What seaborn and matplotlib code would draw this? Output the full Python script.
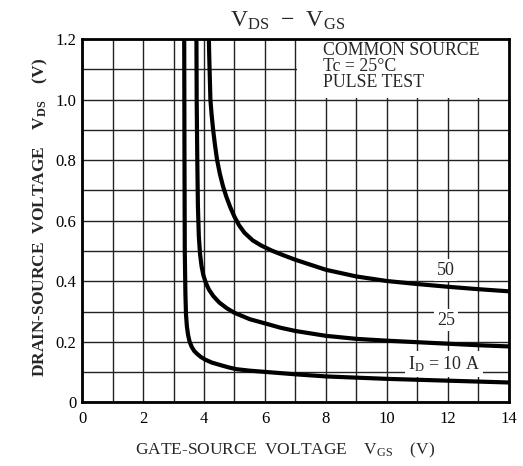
import matplotlib
matplotlib.use("Agg")
import matplotlib.pyplot as plt
import seaborn as sns
import pandas as pd
from matplotlib.patches import Rectangle

# ---- data ----
vgs_10 = [3.35, 3.36, 3.37, 3.39, 3.41, 3.44, 3.48, 3.53, 3.60, 3.68, 3.78, 3.90, 4.05, 4.25, 4.52, 4.80, 5.06, 5.5, 6.0, 7.0, 8.0, 9.0, 10.0, 11.0, 12.0, 13.0, 14.0]
vds_10 = [1.25, 0.80, 0.50, 0.36, 0.29, 0.25, 0.222, 0.20, 0.183, 0.170, 0.160, 0.150, 0.141, 0.132, 0.124, 0.116, 0.110, 0.105, 0.101, 0.093, 0.086, 0.082, 0.078, 0.075, 0.072, 0.069, 0.066]

vgs_25 = [3.75, 3.76, 3.78, 3.80, 3.83, 3.87, 3.92, 3.98, 4.06, 4.16, 4.30, 4.50, 4.75, 5.0, 5.5, 6.04, 6.5, 7.0, 8.0, 9.0, 10.0, 11.0, 12.0, 13.0, 14.0]
vds_25 = [1.25, 1.0, 0.8, 0.65, 0.55, 0.49, 0.45, 0.42, 0.395, 0.373, 0.352, 0.330, 0.311, 0.296, 0.275, 0.26, 0.247, 0.236, 0.22, 0.21, 0.204, 0.199, 0.194, 0.189, 0.185]

vgs_50 = [4.15, 4.17, 4.21, 4.25, 4.30, 4.36, 4.43, 4.52, 4.62, 4.73, 4.86, 5.0, 5.15, 5.33, 5.60, 5.88, 6.21, 6.58, 7.0, 8.0, 9.0, 10.0, 11.0, 12.0, 13.0, 14.0]
vds_50 = [1.25, 1.15, 1.0, 0.95, 0.90, 0.85, 0.80, 0.755, 0.715, 0.68, 0.645, 0.613, 0.585, 0.56, 0.535, 0.518, 0.502, 0.487, 0.471, 0.438, 0.416, 0.401, 0.391, 0.382, 0.374, 0.367]

x_ticks = [0, 2, 4, 6, 8, 10, 12, 14]
y_ticks = [0, 0.2, 0.4, 0.6, 0.8, 1.0, 1.2]
y_tick_labels = ["0", "0.2", "0.4", "0.6", "0.8", "1.0", "1.2"]

curve_labels = ["50", "25", r"I$_\mathrm{D}$ = 10 A"]
curve_label_x = [11.93, 11.93, 11.87]
curve_label_y = [0.437, 0.272, 0.127]

note_lines = ["COMMON SOURCE", "Tc = 25°C", "PULSE TEST"]

# ---- build table ----
frames = []
for name, xs, ys in [("10", vgs_10, vds_10), ("25", vgs_25, vds_25), ("50", vgs_50, vds_50)]:
    frames.append(pd.DataFrame({"vgs": xs, "vds": ys, "id": name}))
df = pd.concat(frames, ignore_index=True)

sns.set_style("white")
plt.rcParams["font.family"] = ["Liberation Serif", "DejaVu Serif"]
plt.rcParams["mathtext.fontset"] = "custom"
plt.rcParams["mathtext.rm"] = "Liberation Serif"
plt.rcParams["mathtext.it"] = "Liberation Serif"
plt.rcParams["mathtext.bf"] = "Liberation Serif:bold"

fig = plt.figure(figsize=(5.23, 4.66), dpi=100)
ax = fig.add_axes([0.1568, 0.1363, 0.8164, 0.78])

sns.lineplot(data=df, x="vgs", y="vds", hue="id", palette=["black"] * 3,
             sort=False, estimator=None, legend=False, linewidth=3.0, ax=ax,
             zorder=3)
for ln in ax.get_lines():
    ln.set_solid_joinstyle("round")
    ln.set_solid_capstyle("round")

ax.set_xlim(0, 14)
ax.set_ylim(0, 1.2)
ax.set_xticks(x_ticks)
ax.set_xticks([i for i in range(15)], minor=True)
ax.set_yticks(y_ticks)
ax.set_yticklabels(y_tick_labels)
ax.set_yticks([i / 10 for i in range(13)], minor=True)
ax.set_axisbelow(True)
ax.grid(True, which="both", color="#222222", linewidth=1.0)
ax.tick_params(which="both", length=0, labelsize=12, colors="black")
ax.tick_params(axis="x", pad=6)
ax.tick_params(axis="y", pad=4)
for s in ax.spines.values():
    s.set_linewidth(2.0)
    s.set_color("black")
    s.set_visible(True)
ax.set_xlabel("")
ax.set_ylabel("")

# blank area for the condition notes
ax.add_patch(Rectangle((7.04, 1.004), 7.0, 0.2, facecolor="white",
                       edgecolor="none", zorder=1))
for i, t in enumerate(note_lines):
    ax.text(7.9, 1.19 - i * 0.053, t, fontsize=12.8, va="top", ha="left",
            zorder=4)

for t, x, y in zip(curve_labels, curve_label_x, curve_label_y):
    ax.text(x, y, t, fontsize=13, ha="center", va="center", zorder=4,
            bbox=dict(facecolor="white", edgecolor="none", pad=2))

fig.text(0.549, 0.955, r"V$_\mathrm{DS}$  $-$  V$_\mathrm{GS}$", fontsize=17,
         ha="center", va="center")
fig.text(0.545, 0.034, r"GATE-SOURCE  VOLTAGE    V$_\mathrm{GS}$    (V)",
         fontsize=12.5, ha="center", va="center")
fig.text(0.077, 0.534, r"DRAIN-SOURCE  VOLTAGE    $\mathbf{V_{DS}}$    (V)",
         fontsize=12.5, ha="center", va="center", rotation=90, fontweight="bold")

fig.savefig("out.png", dpi=100)
